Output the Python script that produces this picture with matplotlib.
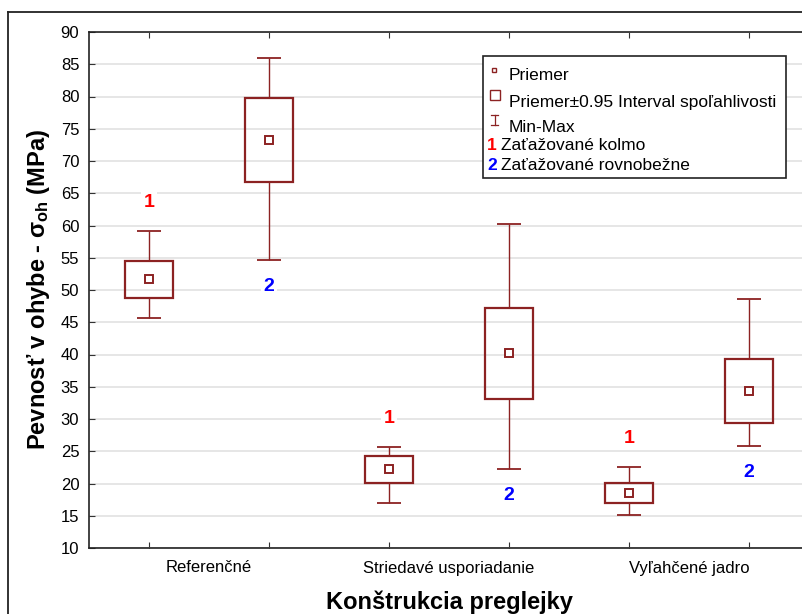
import matplotlib
matplotlib.use("Agg")
import matplotlib.pyplot as plt
import matplotlib.patches as patches
from matplotlib.lines import Line2D
import numpy as np

plt.rcParams["font.family"] = ["Liberation Sans", "DejaVu Sans"]
plt.rcParams["mathtext.fontset"] = "custom"
plt.rcParams["mathtext.rm"] = "Liberation Sans:bold"
plt.rcParams["mathtext.it"] = "Liberation Sans:bold"
plt.rcParams["mathtext.bf"] = "Liberation Sans:bold"

# flexural strength per plywood construction, two loading directions
categories = ["Referenčné", "Striedavé usporiadanie", "Vyľahčené jadro"]
groups = ["1", "2", "1", "2", "1", "2"]
means = [51.7, 73.3, 22.2, 40.2, 18.5, 34.3]
ci_low = [48.8, 66.7, 20.1, 33.05, 16.9, 29.4]
ci_high = [54.5, 79.8, 24.3, 47.2, 20.1, 39.25]
mins = [45.7, 54.7, 16.9, 22.2, 15.1, 25.8]
maxs = [59.2, 86.0, 25.7, 60.3, 22.6, 48.65]

box_color = "#8c2222"
group_colors = {"1": "#ff0000", "2": "#0000ff"}

W, H = 803, 614
fig = plt.figure(figsize=(W / 100, H / 100), dpi=100)
ax = fig.add_axes([89 / W, (H - 548) / H, 720 / W, 516 / H])

pos = np.arange(len(means))
box_w = 0.4
cap_w = 0.2
for x, m, lo, hi, mn, mx, g in zip(pos, means, ci_low, ci_high, mins, maxs, groups):
    ax.add_patch(patches.Rectangle((x - box_w / 2, lo), box_w, hi - lo,
                                   fill=False, edgecolor=box_color, lw=1.6, zorder=3))
    ax.vlines(x, hi, mx, color=box_color, lw=1.0, zorder=3)
    ax.vlines(x, mn, lo, color=box_color, lw=1.0, zorder=3)
    ax.hlines([mn, mx], x - cap_w / 2, x + cap_w / 2, color=box_color, lw=1.3, zorder=3)
    ax.plot(x, m, marker="s", ms=6, mfc="white", mec=box_color, mew=1.4, zorder=4)
    if g == "1":
        ax.annotate(g, (x, mx), xytext=(0, 20), textcoords="offset points",
                    ha="center", va="center", color=group_colors[g], fontsize=14,
                    fontweight="bold", zorder=5,
                    bbox=dict(fc="white", ec="none", pad=1.5))
    else:
        ax.annotate(g, (x, mn), xytext=(0, -19), textcoords="offset points",
                    ha="center", va="center", color=group_colors[g], fontsize=14,
                    fontweight="bold", zorder=5,
                    bbox=dict(fc="white", ec="none", pad=1.5))

ax.set_xlim(-0.5, 5.5)
ax.set_ylim(10, 90)
ax.set_yticks(np.arange(10, 91, 5))
ax.set_xticks(pos)
ax.set_xticklabels([])
ax.set_xticks([0.5, 2.5, 4.5], minor=True)
ax.set_xticklabels(categories, minor=True)
ax.tick_params(axis="x", which="minor", length=0, pad=9, labelsize=12)
ax.tick_params(axis="both", which="major", direction="in", length=4,
               top=True, right=True, labelsize=12, color="#333333")
ax.tick_params(axis="y", pad=7)
ax.grid(axis="y", color="#e2e2e2", lw=1.2, zorder=0)
ax.set_axisbelow(True)
for s in ax.spines.values():
    s.set_linewidth(1.2)
    s.set_color("#222222")

ax.set_xlabel("Konštrukcia preglejky", fontsize=17, fontweight="bold", labelpad=11)
ax.set_ylabel("Pevnosť v ohybe - $\\sigma_{oh}$ (MPa)", fontsize=17,
              fontweight="bold", labelpad=6)

# overlay in pixel coordinates for the frame and the key
ov = fig.add_axes([0, 0, 1, 1], zorder=10)
ov.set_xlim(0, W)
ov.set_ylim(H, 0)
ov.axis("off")
ov.add_line(Line2D([8, 8], [12, H], color="#222222", lw=1.3))
ov.add_line(Line2D([8, W], [12, 12], color="#222222", lw=1.3))

ov.add_patch(patches.Rectangle((483, 56), 303, 122, fc="white", ec="#222222", lw=1.2))
ov.plot(494, 70, marker="s", ms=3.5, mfc="white", mec=box_color, mew=1.0)
ov.add_patch(patches.Rectangle((490.5, 89.5), 9.5, 10, fill=False, ec=box_color, lw=1.0))
ov.add_line(Line2D([495, 495], [115, 125], color=box_color, lw=0.9))
ov.add_line(Line2D([491.5, 498.5], [115, 115], color=box_color, lw=0.9))
ov.add_line(Line2D([491.5, 498.5], [125, 125], color=box_color, lw=0.9))
ov.text(509, 76, "Priemer", fontsize=12.5, va="center")
ov.text(509, 102, "Priemer±0.95 Interval spoľahlivosti", fontsize=12.5, va="center")
ov.text(509, 127, "Min-Max", fontsize=12.5, va="center")
ov.text(487, 146, "1", fontsize=12.5, fontweight="bold", color=group_colors["1"], va="center")
ov.text(501, 146, "Zaťažované kolmo", fontsize=12.5, va="center")
ov.text(487, 165, "2", fontsize=12.5, fontweight="bold", color=group_colors["2"], va="center")
ov.text(501, 165, "Zaťažované rovnobežne", fontsize=12.5, va="center")

fig.savefig("out.png", dpi=100)
